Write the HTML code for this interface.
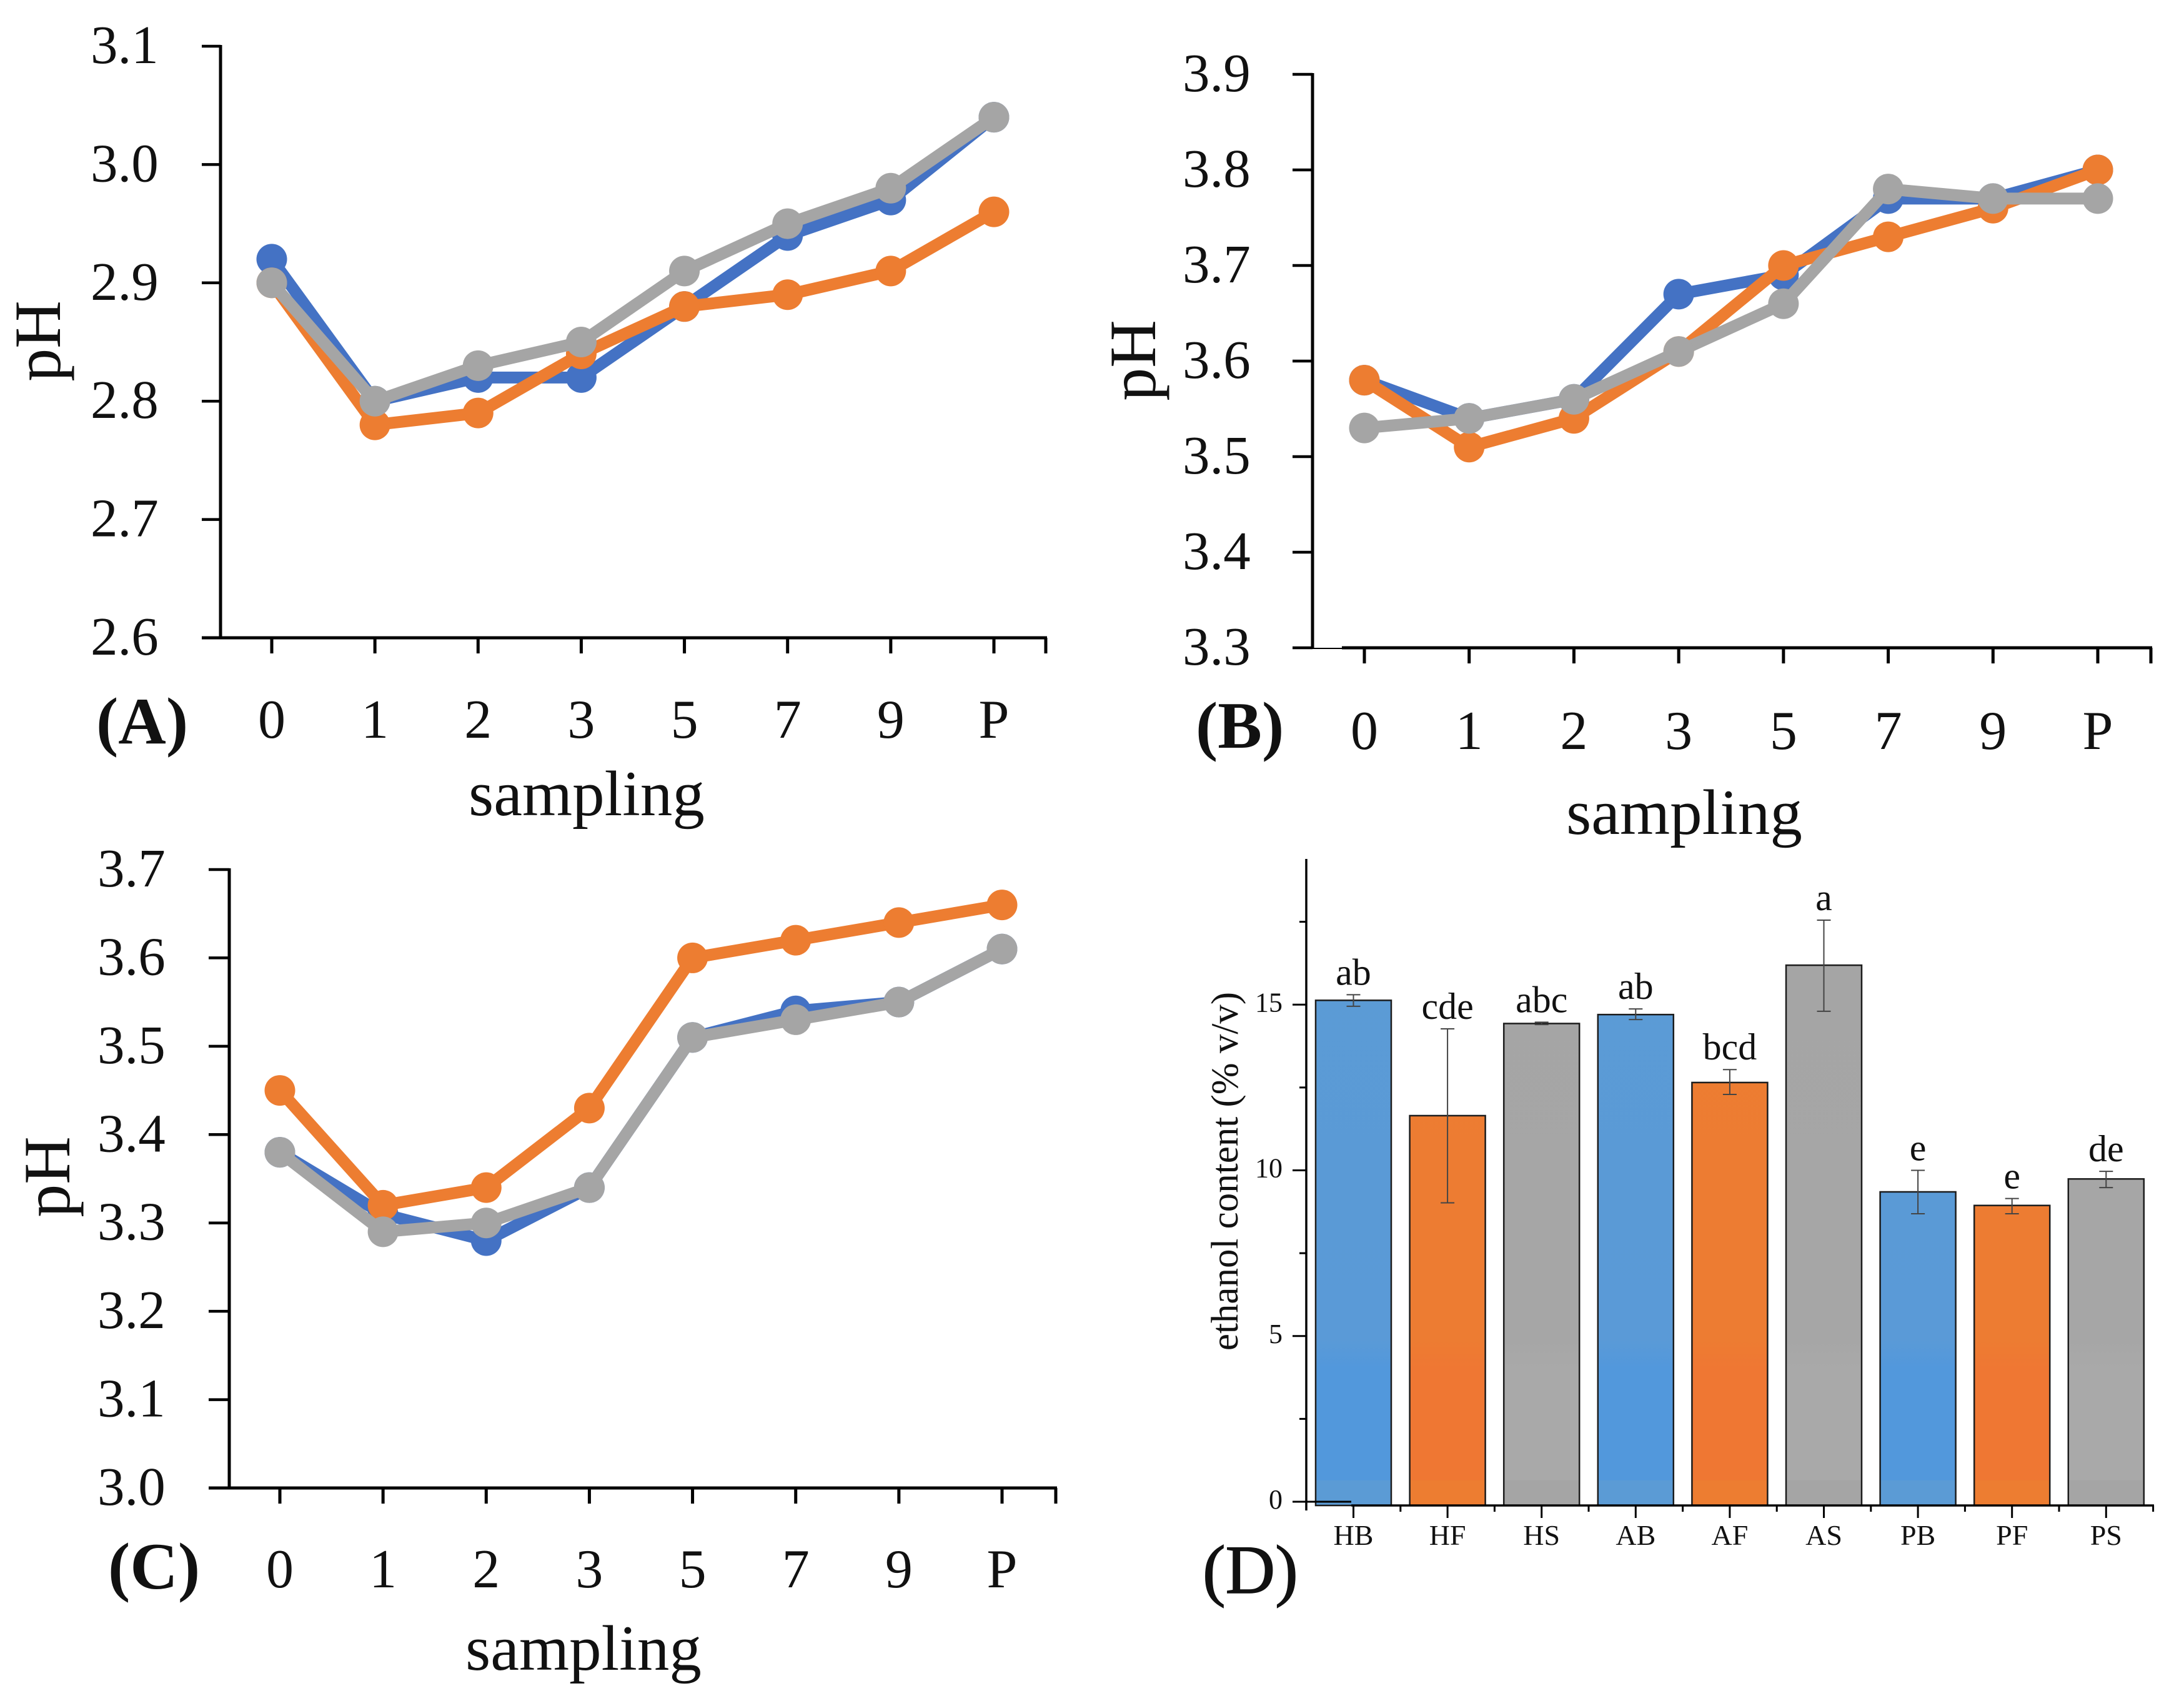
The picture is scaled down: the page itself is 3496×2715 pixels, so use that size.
<!DOCTYPE html>
<html lang="en">
<head>
<meta charset="utf-8">
<title>pH during sampling and ethanol content</title>
<style>
html,body{margin:0;padding:0;background:#fff;width:3496px;height:2715px;overflow:hidden}
svg{display:block;position:absolute;left:0;top:0}
text{font-family:"Liberation Serif",serif;fill:#111}
</style>
</head>
<body>
<svg id="figure" xmlns="http://www.w3.org/2000/svg" width="3496" height="2715" viewBox="0 0 3496 2715">
<defs>
<linearGradient id="blue-fill" gradientUnits="userSpaceOnUse" x1="0" y1="1500" x2="0" y2="2420">
<stop offset="0" stop-color="#5B9BD5"/><stop offset="0.7" stop-color="#5A9AD7"/><stop offset="0.75" stop-color="#5298DC"/><stop offset="0.945" stop-color="#5298DC"/><stop offset="0.946" stop-color="#5B9BD5"/>
</linearGradient>
<linearGradient id="orange-fill" gradientUnits="userSpaceOnUse" x1="0" y1="1500" x2="0" y2="2420">
<stop offset="0" stop-color="#ED7D31"/><stop offset="0.7" stop-color="#ED7C32"/><stop offset="0.75" stop-color="#EF7733"/><stop offset="0.945" stop-color="#EF7733"/><stop offset="0.946" stop-color="#ED7D31"/>
</linearGradient>
<linearGradient id="gray-fill" gradientUnits="userSpaceOnUse" x1="0" y1="1500" x2="0" y2="2420">
<stop offset="0" stop-color="#A5A5A5"/><stop offset="0.7" stop-color="#A6A6A6"/><stop offset="0.75" stop-color="#A9A9A9"/><stop offset="0.945" stop-color="#A9A9A9"/><stop offset="0.946" stop-color="#A5A5A5"/>
</linearGradient>
</defs>
</svg>
<script>
// ---- Line chart data ----
var samplingCategories = ['0', '1', '2', '3', '5', '7', '9', 'P'];
var seriesNames = ['blue', 'orange', 'gray'];

var ticksA = ['2.6', '2.7', '2.8', '2.9', '3.0', '3.1'];
var blueA = [2.92, 2.80, 2.82, 2.82, 2.88, 2.94, 2.97, 3.04];
var orangeA = [2.90, 2.78, 2.79, 2.84, 2.88, 2.89, 2.91, 2.96];
var grayA = [2.90, 2.80, 2.83, 2.85, 2.91, 2.95, 2.98, 3.04];

var ticksB = ['3.3', '3.4', '3.5', '3.6', '3.7', '3.8', '3.9'];
var blueB = [3.58, 3.54, 3.56, 3.67, 3.69, 3.77, 3.77, 3.80];
var orangeB = [3.58, 3.51, 3.54, 3.61, 3.70, 3.73, 3.76, 3.80];
var grayB = [3.53, 3.54, 3.56, 3.61, 3.66, 3.78, 3.77, 3.77];

var ticksC = ['3.0', '3.1', '3.2', '3.3', '3.4', '3.5', '3.6', '3.7'];
var blueC = [3.38, 3.31, 3.28, 3.34, 3.51, 3.54, 3.55, 3.61];
var orangeC = [3.45, 3.32, 3.34, 3.43, 3.60, 3.62, 3.64, 3.66];
var grayC = [3.38, 3.29, 3.30, 3.34, 3.51, 3.53, 3.55, 3.61];

// ---- Bar chart data ----
var barCategories = ['HB', 'HF', 'HS', 'AB', 'AF', 'AS', 'PB', 'PF', 'PS'];
var barGroups = ['blue', 'orange', 'gray', 'blue', 'orange', 'gray', 'blue', 'orange', 'gray'];
var barValues = [15.13, 11.65, 14.43, 14.70, 12.65, 16.19, 9.35, 8.94, 9.74];
var errorHigh = [15.30, 14.27, 14.47, 14.87, 13.04, 17.55, 10.00, 9.15, 9.97];
var errorLow = [14.95, 9.02, 14.40, 14.55, 12.29, 14.80, 8.69, 8.69, 9.48];
var barLetters = ['ab', 'cde', 'abc', 'ab', 'bcd', 'a', 'e', 'e', 'de'];
var barMajorTicks = [0, 5, 10, 15];
var barMinorTicks = [2.5, 7.5, 12.5, 17.5];

var colors = {blue: '#4472C4', orange: '#ED7D31', gray: '#A5A5A5'};
var svg = document.getElementById('figure');
var NS = 'http://www.w3.org/2000/svg';

function make(tag, attrs, parent, content) {
  var el = document.createElementNS(NS, tag);
  for (var k in attrs) { el.setAttribute(k, attrs[k]); }
  if (content !== undefined) { el.textContent = content; }
  (parent || svg).appendChild(el);
  return el;
}

function lineChart(cfg) {
  var g = make('g', {});
  
  

  var yLo = parseFloat(cfg.ticks[0]);
  var yHi = parseFloat(cfg.ticks[cfg.ticks.length - 1]);
  function yScale(v) { return cfg.bottom - (v - yLo) / (yHi - yLo) * (cfg.bottom - cfg.top); }
  function xScale(i) { return cfg.x0 + i * (cfg.xP - cfg.x0) / (samplingCategories.length - 1); }

  var yAxis = make('line', {x1: cfg.axisX, x2: cfg.axisX, y1: cfg.top - 2, y2: cfg.bottom + 2, stroke: '#000', 'stroke-width': 5}, g);
  
  

  var xAxis = make('line', {x1: cfg.xAxisStart, x2: cfg.axisEnd + 2, y1: cfg.bottom, y2: cfg.bottom, stroke: '#000', 'stroke-width': 5}, g);
  
  

  cfg.ticks.forEach(function (t) {
    var y = yScale(parseFloat(t));
    var tick = make('line', {x1: cfg.tickLeft, x2: cfg.axisX, y1: y, y2: y, stroke: '#000', 'stroke-width': 4.5}, g);
    
    
    var lab = make('text', {x: cfg.tickLabelX, y: y + 27, 'font-size': 87}, g, t);
    
    
  });

  samplingCategories.forEach(function (c, i) {
    var x = xScale(i);
    var tick = make('line', {x1: x, x2: x, y1: cfg.bottom, y2: cfg.bottom + 25, stroke: '#000', 'stroke-width': 5}, g);
    
    
    var lab = make('text', {x: x, y: cfg.catBaseline, 'font-size': 88, 'text-anchor': 'middle'}, g, c);
    
    
  });
  var endTick = make('line', {x1: cfg.axisEnd, x2: cfg.axisEnd, y1: cfg.bottom, y2: cfg.bottom + 25, stroke: '#000', 'stroke-width': 5}, g);
  
  

  seriesNames.forEach(function (name, s) {
    var vals = cfg.series[s];
    var pts = vals.map(function (v, i) { return xScale(i) + ',' + yScale(v); }).join(' ');
    var sg = make('g', {}, g);
    
    
    var line = make('polyline', {points: pts, fill: 'none', stroke: colors[name], 'stroke-width': 19, 'stroke-linejoin': 'round'}, sg);
    
    
    vals.forEach(function (v, i) {
      var dot = make('circle', {cx: xScale(i), cy: yScale(v), r: 24.5, fill: colors[name]}, sg);
      
      
    });
  });

  var xt = make('text', {x: cfg.xTitleX, y: cfg.xTitleY, 'font-size': 103, 'text-anchor': 'middle'}, g, 'sampling');
  
  

  var yt = make('text', {x: 0, y: 0, 'font-size': 106, 'text-anchor': 'middle', transform: 'translate(' + cfg.yTitleX + ',' + cfg.yTitleY + ') rotate(-90)'}, g, 'pH');
  
  

  var pl = make('text', {x: cfg.panelX, y: cfg.panelY, 'font-size': 106, 'font-weight': 'bold'}, g, '(' + cfg.id + ')');
  
  
}

lineChart({id: 'A', ticks: ticksA, series: [blueA, orangeA, grayA],
  axisX: 353, xAxisStart: 323, tickLeft: 323, x0: 435, xP: 1591, axisEnd: 1674, top: 74, bottom: 1021,
  tickLabelX: 145, catBaseline: 1181, xTitleX: 939, xTitleY: 1305, yTitleX: 96, yTitleY: 546, panelX: 154, panelY: 1190});

lineChart({id: 'B', ticks: ticksB, series: [blueB, orangeB, grayB],
  axisX: 2101, xAxisStart: 2148, tickLeft: 2069, x0: 2184, xP: 3358, axisEnd: 3443, top: 119, bottom: 1037,
  tickLabelX: 1893, catBaseline: 1199, xTitleX: 2696, xTitleY: 1335, yTitleX: 1849, yTitleY: 577, panelX: 1914, panelY: 1197});

lineChart({id: 'C', ticks: ticksC, series: [blueC, orangeC, grayC],
  axisX: 367, xAxisStart: 334, tickLeft: 334, x0: 448, xP: 1604, axisEnd: 1690, top: 1392, bottom: 2382,
  tickLabelX: 156, catBaseline: 2541, xTitleX: 934, xTitleY: 2673, yTitleX: 111, yTitleY: 1884, panelX: 173, panelY: 2543});

// Thin sliver of axis in panel B between the y axis and the thick x-axis segment
var sliverB = make('line', {x1: 2069, x2: 2150, y1: 1038, y2: 1038, stroke: '#000', 'stroke-width': 2});



// ---- Panel D: bar chart ----
(function () {
  var y0 = 2404, unit = 53.05;
  var firstCx = 2166.5, step = 150.6, barW = 121, barBottom = 2410, axisX = 2091;
  function yScale(v) { return y0 - v * unit; }
  function xScale(i) { return firstCx + i * step; }

  var g = make('g', {});
  
  

  barValues.forEach(function (v, i) {
    var x = xScale(i);
    var bar = make('rect', {x: x - barW / 2, y: yScale(v), width: barW, height: barBottom - yScale(v), fill: 'url(#' + barGroups[i] + '-fill)', stroke: '#1c1c1c', 'stroke-width': 2.5}, g);
    
    
  });

  var yAxis = make('line', {x1: axisX, x2: axisX, y1: 1375, y2: 2418, stroke: '#000', 'stroke-width': 3.5}, g);
  
  

  var xAxis = make('line', {x1: 2163, x2: 3448, y1: barBottom, y2: barBottom, stroke: '#000', 'stroke-width': 3.5}, g);
  
  

  barMajorTicks.forEach(function (t) {
    var y = yScale(t);
    var x2 = t === 0 ? 2163 : axisX;
    var tick = make('line', {x1: 2069, x2: x2, y1: y, y2: y, stroke: '#000', 'stroke-width': 3}, g);
    
    
    var lab = make('text', {x: 2053, y: y + 11, 'font-size': 44, 'text-anchor': 'end'}, g, String(t));
    
    
  });
  barMinorTicks.forEach(function (t) {
    var y = yScale(t);
    var tick = make('line', {x1: 2080, x2: axisX, y1: y, y2: y, stroke: '#000', 'stroke-width': 3}, g);
    
    
  });

  barCategories.forEach(function (c, i) {
    var x = xScale(i);
    var tick = make('line', {x1: x, x2: x, y1: barBottom, y2: 2430, stroke: '#000', 'stroke-width': 3}, g);
    
    
    var minor = make('line', {x1: x + step / 2, x2: x + step / 2, y1: barBottom, y2: 2420, stroke: '#000', 'stroke-width': 3}, g);
    
    
    var lab = make('text', {x: x, y: 2473, 'font-size': 46, 'text-anchor': 'middle'}, g, c);
    
    

    var hi = yScale(errorHigh[i]), lo = yScale(errorLow[i]);
    var stem = make('line', {x1: x, x2: x, y1: hi, y2: lo, stroke: '#444', 'stroke-width': 2}, g);
    
    
    var capHi = make('line', {x1: x - 11, x2: x + 11, y1: hi, y2: hi, stroke: '#444', 'stroke-width': 2}, g);
    
    
    var capLo = make('line', {x1: x - 11, x2: x + 11, y1: lo, y2: lo, stroke: '#444', 'stroke-width': 2}, g);
    
    

    var letter = make('text', {x: x, y: hi - 16, 'font-size': 60, 'text-anchor': 'middle'}, g, barLetters[i]);
    
    
  });

  var yt = make('text', {x: 0, y: 0, 'font-size': 61, 'text-anchor': 'middle', transform: 'translate(1981,1875) rotate(-90)'}, g, 'ethanol content (% v/v)');
  
  

  var pl = make('text', {x: 1925, y: 2550, 'font-size': 110, stroke: '#111', 'stroke-width': 1.5}, g, '(D)');
  
  
})();
</script>
</body>
</html>
